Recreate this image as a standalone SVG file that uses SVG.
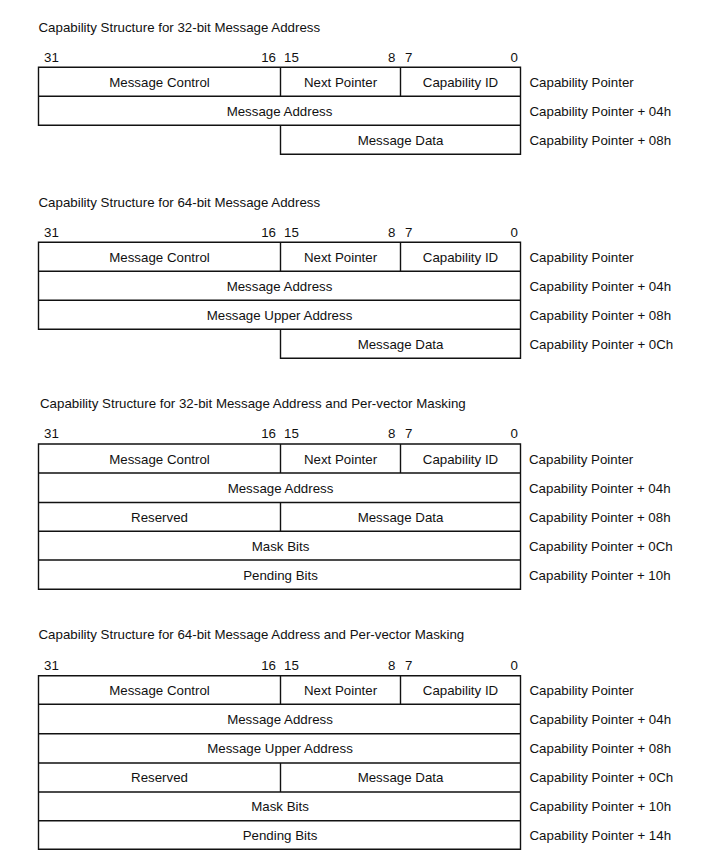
<svg xmlns="http://www.w3.org/2000/svg" width="709" height="866" viewBox="0 0 709 866">
<style>
text{font-family:"Liberation Sans",Arial,sans-serif;font-size:13.3px;fill:#111}
.c{text-anchor:middle}
.e{text-anchor:end}
.b{fill:none;stroke:#111;stroke-width:1.4}
</style>
<rect width="709" height="866" fill="#fff"/>

<g id="s1">
<text x="38.5" y="31.7">Capability Structure for 32-bit Message Address</text>
<text x="44" y="61.7">31</text><text class="e" x="276" y="61.7">16</text><text x="284" y="61.7">15</text>
<text class="e" x="395.5" y="61.7">8</text><text x="405" y="61.7">7</text><text class="e" x="518" y="61.7">0</text>
<path class="b" d="M38.5 67.3H520.5V125.3H38.5Z M38.5 96.3H520.5 M280.5 67.3V96.3 M400.5 67.3V96.3 M280.5 125.3V154.3H520.5V125.3"/>
<text class="c" x="159.5" y="86.7">Message Control</text>
<text class="c" x="340.5" y="86.7">Next Pointer</text>
<text class="c" x="460.5" y="86.7">Capability ID</text>
<text class="c" x="279.5" y="115.7">Message Address</text>
<text class="c" x="400.5" y="144.7">Message Data</text>
<text x="529.5" y="86.7">Capability Pointer</text>
<text x="529.5" y="115.7">Capability Pointer + 04h</text>
<text x="529.5" y="144.7">Capability Pointer + 08h</text>
</g>

<g id="s2">
<text x="38.5" y="206.7">Capability Structure for 64-bit Message Address</text>
<text x="44" y="236.7">31</text><text class="e" x="276" y="236.7">16</text><text x="284" y="236.7">15</text>
<text class="e" x="395.5" y="236.7">8</text><text x="405" y="236.7">7</text><text class="e" x="518" y="236.7">0</text>
<path class="b" d="M38.5 242.3H520.5V329.3H38.5Z M38.5 271.3H520.5 M38.5 300.3H520.5 M280.5 242.3V271.3 M400.5 242.3V271.3 M280.5 329.3V358.3H520.5V329.3"/>
<text class="c" x="159.5" y="261.7">Message Control</text>
<text class="c" x="340.5" y="261.7">Next Pointer</text>
<text class="c" x="460.5" y="261.7">Capability ID</text>
<text class="c" x="279.5" y="290.7">Message Address</text>
<text class="c" x="279.5" y="319.7">Message Upper Address</text>
<text class="c" x="400.5" y="348.7">Message Data</text>
<text x="529.5" y="261.7">Capability Pointer</text>
<text x="529.5" y="290.7">Capability Pointer + 04h</text>
<text x="529.5" y="319.7">Capability Pointer + 08h</text>
<text x="529.5" y="348.7">Capability Pointer + 0Ch</text>
</g>

<g id="s3">
<text x="40" y="407.5">Capability Structure for 32-bit Message Address and Per-vector Masking</text>
<text x="44" y="438">31</text><text class="e" x="276" y="438">16</text><text x="284" y="438">15</text>
<text class="e" x="395.5" y="438">8</text><text x="405" y="438">7</text><text class="e" x="518" y="438">0</text>
<path class="b" d="M38.5 444H520.5V589.3H38.5Z M38.5 473H520.5 M38.5 502.5H520.5 M38.5 531.3H520.5 M38.5 560H520.5 M280.5 444V473 M400.5 444V473 M280.5 502.5V531.3"/>
<text class="c" x="159.5" y="464">Message Control</text>
<text class="c" x="340.5" y="464">Next Pointer</text>
<text class="c" x="460.5" y="464">Capability ID</text>
<text class="c" x="280.5" y="493">Message Address</text>
<text class="c" x="159.5" y="521.5">Reserved</text>
<text class="c" x="400.5" y="521.5">Message Data</text>
<text class="c" x="280.5" y="551">Mask Bits</text>
<text class="c" x="280.5" y="579.5">Pending Bits</text>
<text x="529" y="464">Capability Pointer</text>
<text x="529" y="493">Capability Pointer + 04h</text>
<text x="529" y="522">Capability Pointer + 08h</text>
<text x="529" y="551">Capability Pointer + 0Ch</text>
<text x="529" y="580">Capability Pointer + 10h</text>
</g>

<g id="s4">
<text x="38.5" y="638.5">Capability Structure for 64-bit Message Address and Per-vector Masking</text>
<text x="44" y="670">31</text><text class="e" x="276" y="670">16</text><text x="284" y="670">15</text>
<text class="e" x="395.5" y="670">8</text><text x="405" y="670">7</text><text class="e" x="518" y="670">0</text>
<path class="b" d="M38.5 675.7H520.5V849.3H38.5Z M38.5 704.3H520.5 M38.5 733.7H520.5 M38.5 763H520.5 M38.5 792H520.5 M38.5 820.7H520.5 M280.5 675.7V704.3 M400.5 675.7V704.3 M280.5 763V792"/>
<text class="c" x="159.5" y="695">Message Control</text>
<text class="c" x="340.5" y="695">Next Pointer</text>
<text class="c" x="460.5" y="695">Capability ID</text>
<text class="c" x="280" y="724">Message Address</text>
<text class="c" x="280" y="753">Message Upper Address</text>
<text class="c" x="159.5" y="782">Reserved</text>
<text class="c" x="400.5" y="782">Message Data</text>
<text class="c" x="280" y="811">Mask Bits</text>
<text class="c" x="280" y="840">Pending Bits</text>
<text x="529.5" y="695">Capability Pointer</text>
<text x="529.5" y="724">Capability Pointer + 04h</text>
<text x="529.5" y="753">Capability Pointer + 08h</text>
<text x="529.5" y="782">Capability Pointer + 0Ch</text>
<text x="529.5" y="811">Capability Pointer + 10h</text>
<text x="529.5" y="840">Capability Pointer + 14h</text>
</g>
</svg>
